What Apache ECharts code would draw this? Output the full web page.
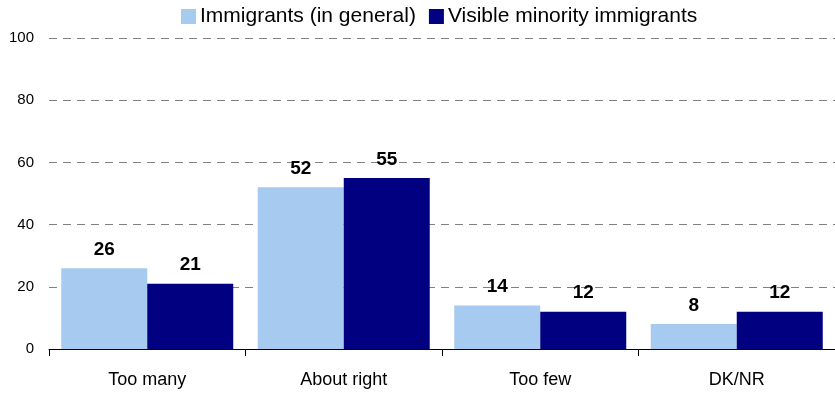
<!DOCTYPE html>
<html><head><meta charset="utf-8">
<script src="https://cdn.jsdelivr.net/npm/echarts@6/dist/echarts.min.js"></script>
<style>html,body{margin:0;padding:0;background:#fff}#c{width:835px;height:397px}</style>
</head><body><div id="c"></div>
<script>
const categories = ['Too many', 'About right', 'Too few', 'DK/NR'];
const seriesNames = ['Immigrants (in general)', 'Visible minority immigrants'];
const general = [26, 52, 14, 8];
const visible = [21, 55, 12, 12];
const yTicks = [0, 20, 40, 60, 80, 100];

const chart = echarts.init(document.getElementById('c'));
const font = 'Liberation Sans, Arial, sans-serif';
const lbl = {show: true, position: 'top', fontFamily: font, fontWeight: 'bold', fontSize: 19, color: '#000', distance: 9};
chart.setOption({
  animation: false,
  legend: {
    top: 1, left: 176, itemWidth: 15, itemHeight: 15, itemGap: 13,
    icon: 'rect',
    textStyle: {fontFamily: font, fontSize: 21, color: '#000', padding: [0,0,0,-1]},
    data: seriesNames
  },
  grid: {left: 49, right: 0, top: 38, bottom: 48},
  xAxis: {
    type: 'category', data: categories,
    axisLine: {lineStyle: {color: '#000', width: 1}},
    axisTick: {show: true, length: 7, lineStyle: {color: '#000'}},
    axisLabel: {fontFamily: font, fontSize: 18, color: '#000', margin: 22}
  },
  yAxis: {
    type: 'value', min: yTicks[0], max: yTicks[yTicks.length-1], interval: 20,
    axisLine: {show: false}, axisTick: {show: false},
    axisLabel: {fontFamily: font, fontSize: 15, color: '#000', margin: 15},
    splitLine: {lineStyle: {color: '#808080', type: [8, 6], width: 1}}
  },
  series: [
    {name: seriesNames[0], type: 'bar', data: general, barWidth: 86, barGap: '0%',
     itemStyle: {color: '#A6CAF0'}, label: lbl},
    {name: seriesNames[1], type: 'bar', data: visible, barWidth: 86, barGap: '0%',
     itemStyle: {color: '#000080'}, label: lbl}
  ]
});
</script></body></html>
